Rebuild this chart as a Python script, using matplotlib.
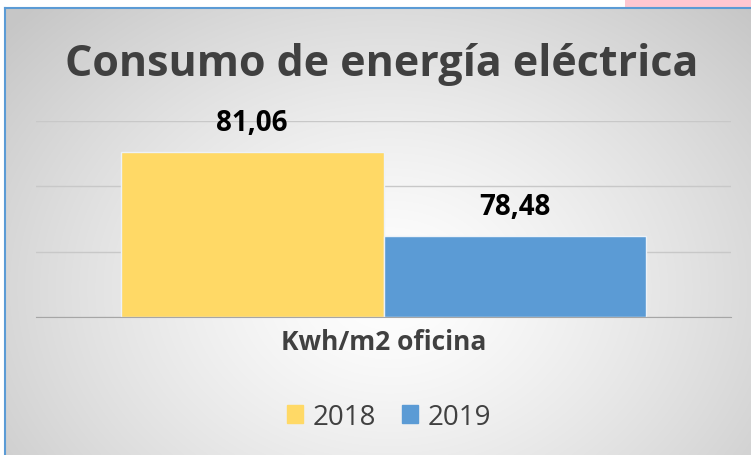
import numpy as np
import matplotlib.pyplot as plt
from matplotlib.patches import Rectangle

plt.rcParams['font.family'] = ['Open Sans', 'DejaVu Sans']

# data
categories = ['Kwh/m2 oficina']
series = ['2018', '2019']
values = [81.06, 78.48]
colors = ['#FFD966', '#5B9BD5']
title = 'Consumo de energía eléctrica'

W, H = 751, 456
fig = plt.figure(figsize=(W / 100, H / 100), dpi=100)

# background in pixel coordinates
bg = fig.add_axes([0, 0, 1, 1])
bg.set_xlim(0, W)
bg.set_ylim(H, 0)
bg.axis('off')
bg.add_patch(Rectangle((625, 0), W - 625, 10, color='#FFC7D1', lw=0))

# radial gradient for the chart area
x0, y0 = 5, 9
xs = np.linspace(x0, W, 400)
ys = np.linspace(y0, H, 300)
X, Y = np.meshgrid(xs, ys)
r = np.hypot((X - 390) / 420, (Y - 290) / 330)
r = np.clip(r, 0, 1.2)
shade = 1 - 0.22 * (r / 1.2) ** 1.3
img = np.dstack([shade, shade, shade])
bg.imshow(img, extent=(x0, W, H, y0), aspect='auto', interpolation='bilinear')
bg.plot([x0, x0], [y0, H], color='#5B9BD5', lw=1.5)
bg.plot([x0, W], [y0, y0], color='#5B9BD5', lw=1.5)
bg.set_xlim(0, W)
bg.set_ylim(H, 0)

# main chart
ax = fig.add_axes([36 / W, (H - 318) / H, (731 - 36) / W, (318 - 122) / H])
ax.patch.set_alpha(0)
width = 0.378
for i, (s, v, c) in enumerate(zip(series, values, colors)):
    x = (i - 0.5) * width
    ax.bar(x, v - 76, bottom=76, width=width, color=c, edgecolor='#EDF2F8',
           linewidth=1, label=s, zorder=3)
    ax.annotate(f'{v:.2f}'.replace('.', ','), (x, v), xytext=(0, 15.5),
                textcoords='offset points', ha='center', va='baseline',
                fontsize=20, fontweight='bold', color='black')

ax.set_xlim(-0.5, 0.5)
ax.set_ylim(76, 82)
ax.set_yticks([76, 78, 80, 82])
ax.yaxis.grid(True, color='#C8C8C8', lw=1, zorder=0)
ax.tick_params(axis='y', left=False, labelleft=False)
ax.set_xticks([0])
ax.set_xticklabels(categories, fontsize=19, fontweight='bold', color='#404040')
ax.tick_params(axis='x', length=0, pad=8)
for side in ['top', 'right', 'left']:
    ax.spines[side].set_visible(False)
ax.spines['bottom'].set_color('#A6A6A6')
ax.spines['bottom'].set_zorder(4)

fig.text(382 / W, 1 - 64 / H, title, ha='center', va='center',
         fontsize=31, fontweight='bold', color='#404040')

handles = [Rectangle((0, 0), 1, 1, color=c) for c in colors]
fig.legend(handles, series, loc='center', bbox_to_anchor=(389 / W, 1 - 418 / H),
           ncol=2, frameon=False, fontsize=20, handlelength=0.6,
           handleheight=0.6, handletextpad=0.35, columnspacing=0.9,
           labelcolor='#404040')

fig.savefig('out.png', dpi=100)
